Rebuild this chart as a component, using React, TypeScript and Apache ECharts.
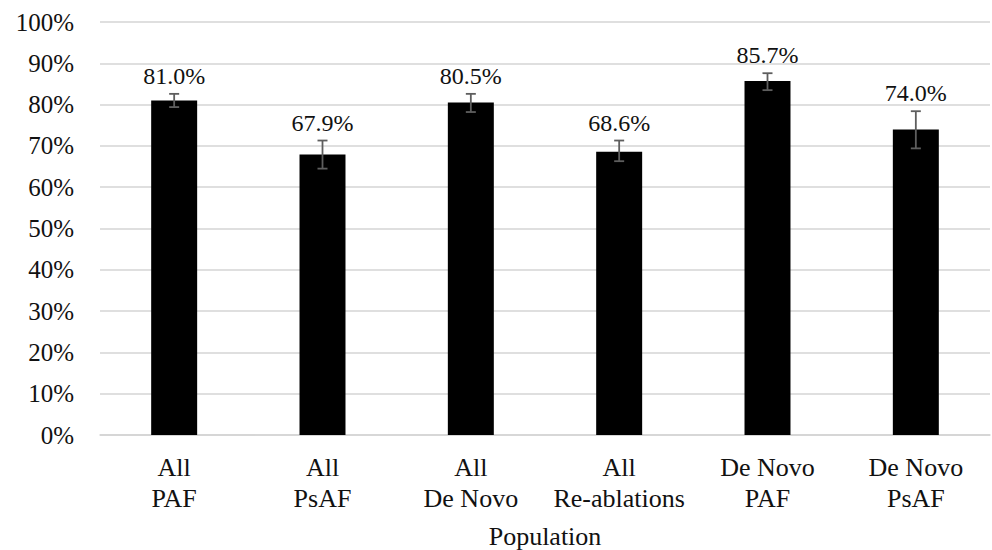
import React, { useEffect, useRef } from "react";
import * as echarts from "echarts";

const categories = ["All\nPAF", "All\nPsAF", "All\nDe Novo", "All\nRe-ablations", "De Novo\nPAF", "De Novo\nPsAF"];
const values = [81.0, 67.9, 80.5, 68.6, 85.7, 74.0];
const errLow = [79.4, 64.5, 78.2, 66.3, 83.5, 69.4];
const errHigh = [82.6, 71.3, 82.6, 71.3, 87.6, 78.4];
const yTicks = [0, 10, 20, 30, 40, 50, 60, 70, 80, 90, 100];

const FONT = "Liberation Serif";

export default function App() {
  const ref = useRef<HTMLDivElement>(null);
  useEffect(() => {
    if (!ref.current) return;
    const chart = echarts.init(ref.current, undefined, { renderer: "svg" });
    const errData = categories.map((_, i) => [i, errLow[i], errHigh[i], values[i]]);
    chart.setOption({
      animation: false,
      backgroundColor: "#ffffff",
      textStyle: { fontFamily: FONT },
      grid: { left: 100, right: 2, top: 22, bottom: 115, containLabel: false, outerBoundsMode: "none" },
      xAxis: {
        type: "category",
        data: categories,
        axisLine: { show: true, lineStyle: { color: "#d4d4d4", width: 1.5 } },
        axisTick: { show: false },
        axisLabel: {
          color: "#111111",
          fontFamily: FONT,
          fontSize: 26,
          lineHeight: 31,
          margin: 17,
          interval: 0,
        },
        name: "Population",
        nameLocation: "middle",
        nameGap: 88,
        nameTextStyle: { color: "#111111", fontFamily: FONT, fontSize: 26 },
      },
      yAxis: {
        type: "value",
        min: 0,
        max: 100,
        interval: 10,
        axisLine: { show: false },
        axisTick: { show: false },
        splitLine: { lineStyle: { color: "#d4d4d4", width: 1.5 } },
        axisLabel: {
          color: "#111111",
          fontFamily: FONT,
          fontSize: 25,
          margin: 26,
          formatter: (v: number) => (yTicks.includes(v) ? `${v}%` : ""),
        },
      },
      series: [
        {
          type: "bar",
          data: values,
          barWidth: "31%",
          itemStyle: { color: "#000000" },
          z: 2,
        },
        {
          type: "custom",
          data: errData,
          z: 3,
          renderItem: (params: any, api: any) => {
            const x = api.value(0);
            const lo = api.coord([x, api.value(1)]);
            const hi = api.coord([x, api.value(2)]);
            const half = 5;
            const style = { stroke: "#5e5e5e", lineWidth: 1.8 };
            return {
              type: "group",
              children: [
                { type: "line", shape: { x1: lo[0], y1: lo[1], x2: hi[0], y2: hi[1] }, style },
                { type: "line", shape: { x1: lo[0] - half, y1: lo[1], x2: lo[0] + half, y2: lo[1] }, style },
                { type: "line", shape: { x1: hi[0] - half, y1: hi[1], x2: hi[0] + half, y2: hi[1] }, style },
                {
                  type: "text",
                  x: hi[0],
                  y: hi[1] - 6,
                  style: {
                    text: api.value(3).toFixed(1) + "%",
                    fill: "#111111",
                    fontFamily: FONT,
                    fontSize: 24,
                    align: "center",
                    verticalAlign: "bottom",
                  },
                },
              ],
            };
          },
        },
      ],
    });
    return () => chart.dispose();
  }, []);
  return (
    <div
      ref={ref}
      style={{ position: "fixed", left: 0, top: 0, width: 992, height: 550, background: "#fff" }}
    />
  );
}
